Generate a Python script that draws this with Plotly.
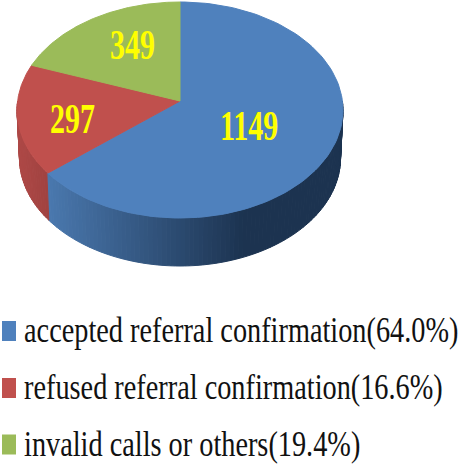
import numpy as np
import plotly.graph_objects as go

categories = ["accepted referral confirmation", "refused referral confirmation", "invalid calls or others"]
values = [1149, 297, 349]
percent_labels = ["64.0%", "16.6%", "19.4%"]
colors = ["#4f81bd", "#c0504d", "#9bbb59"]

W, H = 461, 466
CX, APEX_Y, RX, RY, PERSPECTIVE, DEPTH = 180, 101, 162.4, 107.25, 0.0833, 48
BOTTOM_SCALE = 0.985


def hex_rgb(c):
    return np.array([int(c[i:i + 2], 16) for i in (1, 3, 5)], float)


def mix(a, b, t):
    v = hex_rgb(a) * (1 - t) + hex_rgb(b) * t
    return "rgb(%d,%d,%d)" % tuple(v)


def rim(theta_deg, depth=0.0, scale=1.0):
    t = np.radians(theta_deg)
    u, v = np.sin(t), -np.cos(t)
    w = 1 - PERSPECTIVE * v
    return CX + RX * scale * u / w, APEX_Y + RY * v / w + depth


total = sum(values)
edges = np.concatenate([[0], np.cumsum(values) / total * 360])
fig = go.Figure()


def poly(xs, ys, color):
    fig.add_trace(go.Scatter(x=list(xs), y=list(ys), mode="lines", fill="toself", fillcolor=color,
                             line=dict(color=color, width=1), hoverinfo="skip", showlegend=False))


# Side wall: thin strips carry the horizontal shading of the rim
for theta in np.arange(90, 270, 1.5):
    next_theta = theta + 1.5
    mid = theta + 0.75
    x0, y0 = rim(theta)
    x1, y1 = rim(next_theta)
    x2, y2 = rim(next_theta, DEPTH, BOTTOM_SCALE)
    x3, y3 = rim(theta, DEPTH, BOTTOM_SCALE)
    xm = (x0 + x1) / 2
    if mid < edges[1]:
        color = mix("#4a78ae", "#1c3350", np.clip((xm - 49) / 196, 0, 1))
    else:
        color = mix("#ad4846", "#a04240", np.clip((xm - 20) / 29, 0, 1))
    poly([x0, x1, x2, x3, x0], [y0, y1, y2, y3, y0], color)

# Top face
for i, color in enumerate(colors):
    th = np.linspace(edges[i], edges[i + 1], 120)
    xs, ys = rim(th)
    poly(np.r_[CX, xs, CX], np.r_[APEX_Y, ys, APEX_Y], color)

# Slice labels
label_pos = [(249, 125), (72, 118), (132, 44)]
for v, (x, y) in zip(values, label_pos):
    fig.add_annotation(x=x, y=y, text=f"<b>{v}</b>", showarrow=False,
                       font=dict(family="Liberation Serif", size=30, color="#ffff00"))

# Legend
legend_y = [331, 388, 444.5]
for color, y in zip(colors, legend_y):
    fig.add_shape(type="rect", x0=2, x1=16, y0=y - 10, y1=y + 10, fillcolor=color, line=dict(width=0))
for name, pct, y in zip(categories, percent_labels, legend_y):
    fig.add_annotation(x=22, y=y - 1.5, text=f"{name}({pct})", showarrow=False, xanchor="left",
                       font=dict(family="Liberation Serif", size=28.3, color="#111111"))

fig.update_xaxes(range=[0, W], visible=False, fixedrange=True)
fig.update_yaxes(range=[H, 0], visible=False, fixedrange=True)
fig.update_layout(width=W, height=H, margin=dict(l=0, r=0, t=0, b=0),
                  paper_bgcolor="white", plot_bgcolor="white", showlegend=False)

# The reference's text is stretched vertically; Plotly has no font-stretch option.
post = """
document.body.style.margin = '0';
document.querySelectorAll('.annotation-text').forEach(function (t) {
  var yellow = t.style.fill.indexOf('255, 255, 0') >= 0;
  t.style.transformBox = 'fill-box';
  t.style.transformOrigin = 'center';
  t.style.transform = 'scale(1,' + (yellow ? 1.4 : 1.3) + ')';
});
"""
fig.write_html("out.html", config={"displayModeBar": False}, post_script=post)
